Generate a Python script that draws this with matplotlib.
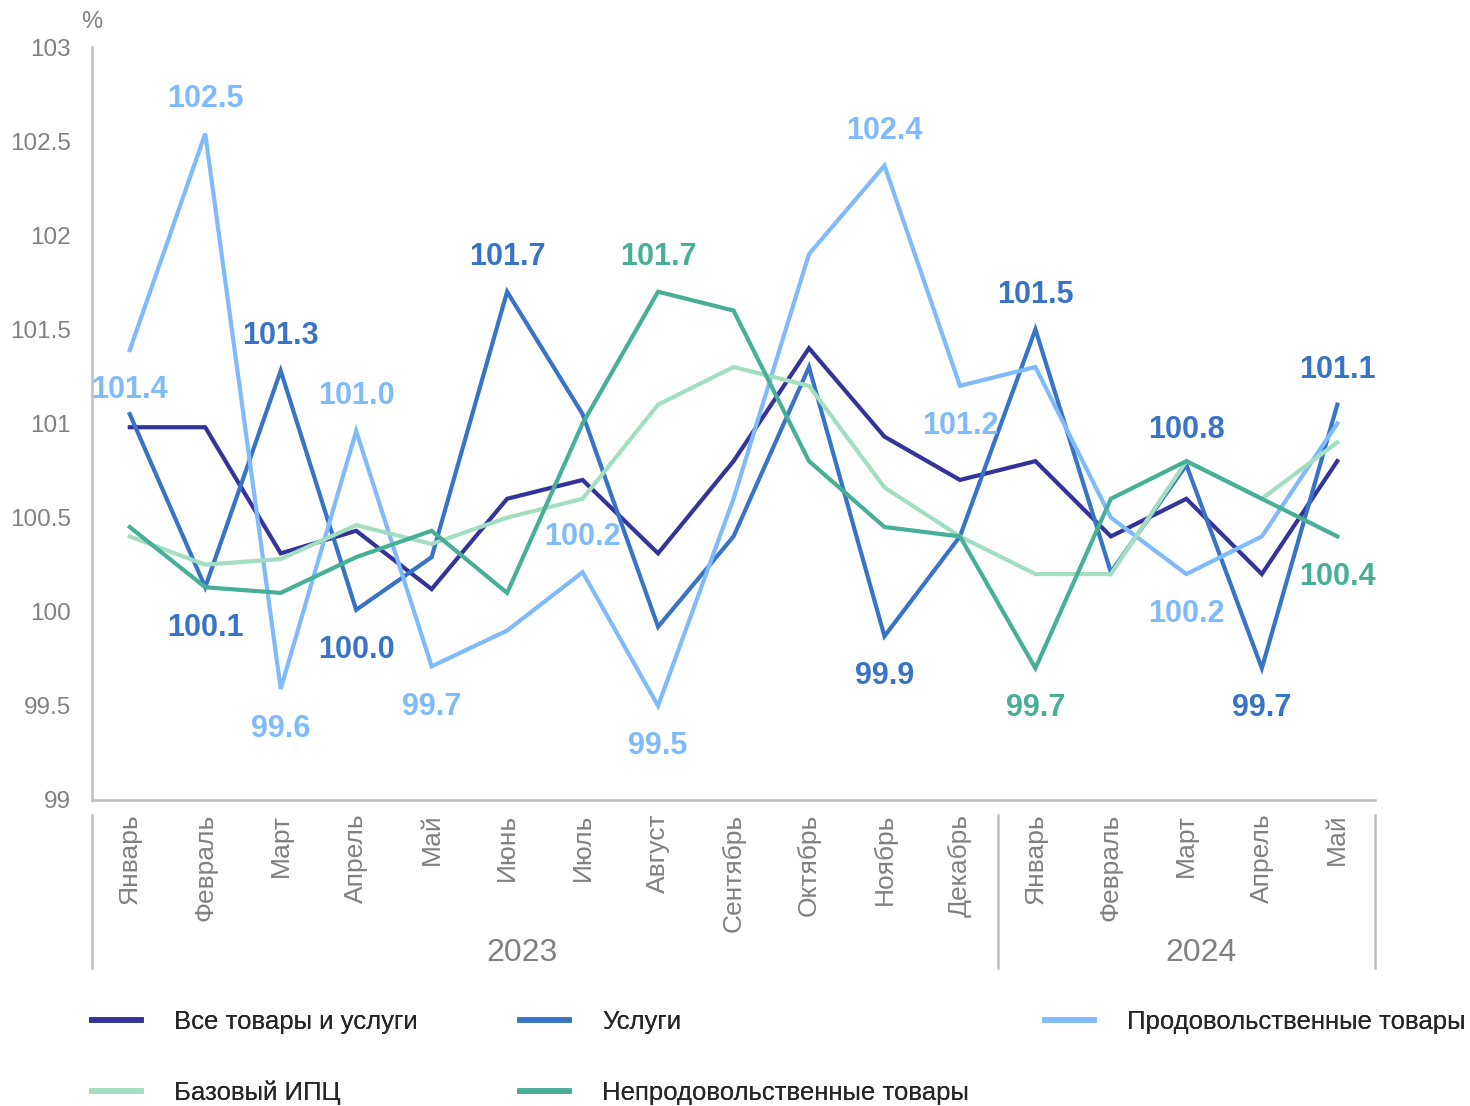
import matplotlib.pyplot as plt
from matplotlib.transforms import blended_transform_factory

plt.rcParams['font.family'] = ['Liberation Sans', 'DejaVu Sans']

# data
months = ['Январь', 'Февраль', 'Март', 'Апрель', 'Май', 'Июнь', 'Июль', 'Август',
          'Сентябрь', 'Октябрь', 'Ноябрь', 'Декабрь',
          'Январь', 'Февраль', 'Март', 'Апрель', 'Май']
years = ['2023', '2024']
year_sizes = [12, 5]

all_goods = [100.98, 100.98, 100.31, 100.43, 100.12, 100.60, 100.70, 100.31, 100.80,
             101.40, 100.93, 100.70, 100.80, 100.40, 100.60, 100.20, 100.80]
services = [101.05, 100.13, 101.28, 100.01, 100.29, 101.70, 101.05, 99.92, 100.40,
            101.30, 99.87, 100.40, 101.50, 100.21, 100.78, 99.70, 101.10]
food = [101.39, 102.54, 99.59, 100.96, 99.71, 99.90, 100.21, 99.50, 100.60,
        101.90, 102.37, 101.20, 101.30, 100.50, 100.20, 100.40, 101.00]
core = [100.40, 100.25, 100.28, 100.46, 100.36, 100.50, 100.60, 101.10, 101.30,
        101.20, 100.66, 100.40, 100.20, 100.20, 100.80, 100.60, 100.90]
nonfood = [100.45, 100.13, 100.10, 100.29, 100.43, 100.10, 101.00, 101.70, 101.60,
           100.80, 100.45, 100.40, 99.70, 100.60, 100.80, 100.60, 100.40]

names = ['Все товары и услуги', 'Услуги', 'Продовольственные товары',
         'Базовый ИПЦ', 'Непродовольственные товары']
colors = ['#343399', '#3773C6', '#7FBAFB', '#A3DEC0', '#47AE97']
series = [all_goods, services, food, core, nonfood]

# value labels: (series index, month index, text, above?)
labels = [
    (2, 0, '101.4', False), (2, 1, '102.5', True), (1, 1, '100.1', False),
    (1, 2, '101.3', True), (2, 2, '99.6', False), (2, 3, '101.0', True),
    (1, 3, '100.0', False), (2, 4, '99.7', False), (1, 5, '101.7', True),
    (2, 6, '100.2', True), (4, 7, '101.7', True), (2, 7, '99.5', False),
    (2, 10, '102.4', True), (1, 10, '99.9', False), (2, 11, '101.2', False),
    (1, 12, '101.5', True), (4, 12, '99.7', False), (1, 14, '100.8', True),
    (2, 14, '100.2', False), (1, 15, '99.7', False), (1, 16, '101.1', True),
    (4, 16, '100.4', False),
]

gray = '#808080'
fig = plt.figure(figsize=(14.7, 11.06), dpi=100)
ax = fig.add_axes([0.0626, 0.2767, 0.8728, 0.6808])

x = list(range(len(months)))
lines = []
for vals, c, n in zip(series, colors, names):
    ln, = ax.plot(x, vals, color=c, lw=3, label=n, solid_joinstyle='miter')
    lines.append(ln)

for si, mi, txt, above in labels:
    off = 25 if above else -29
    ax.annotate(txt, (mi, series[si][mi]), xytext=(0, off), textcoords='offset points',
                ha='center', va='center', fontsize=22, fontweight='bold', color=colors[si])

ax.set_xlim(-0.5, len(months) - 0.5)
ax.set_ylim(99, 103)
ax.set_yticks([99, 99.5, 100, 100.5, 101, 101.5, 102, 102.5, 103])
ax.set_yticklabels(['99', '99.5', '100', '100.5', '101', '101.5', '102', '102.5', '103'])
ax.tick_params(axis='y', length=0, labelsize=17.5, labelcolor=gray, pad=15)
ax.set_xticks(x)
ax.set_xticklabels(months, rotation=90)
ax.tick_params(axis='x', length=0, labelsize=19, labelcolor=gray, pad=10)

for s in ['top', 'right']:
    ax.spines[s].set_visible(False)
for s in ['left', 'bottom']:
    ax.spines[s].set_color('#BFBFBF')
    ax.spines[s].set_linewidth(1.8)

tr = blended_transform_factory(ax.transData, ax.transAxes)
ax.text(-0.5, 1.033, '%', transform=tr, ha='center', va='center', fontsize=17, color=gray)

# year grouping
year_shift = [-0.3, 0.2]
start = -0.5
ax.plot([start, start], [-0.02, -0.223], color='#BFBFBF', lw=1.8, transform=tr, clip_on=False)
for yr, n, sh in zip(years, year_sizes, year_shift):
    end = start + n
    ax.plot([end, end], [-0.02, -0.223], color='#BFBFBF', lw=1.8, transform=tr, clip_on=False)
    ax.text((start + end) / 2 + sh, -0.203, yr, transform=tr, ha='center', va='center',
            fontsize=23, color=gray)
    start = end

# legend in three columns
cols = [[0, 3], [1, 4], [2]]
col_x = [0.0626, 0.3537, 0.7109]
for idx, cx in zip(cols, col_x):
    leg = fig.legend([lines[i] for i in idx], [names[i] for i in idx],
                     loc='upper left', bbox_to_anchor=(cx, 0.087), frameon=False,
                     fontsize=18.5, handlelength=1.9, handletextpad=1.3,
                     labelspacing=1.83, borderpad=0, borderaxespad=0)
    for t in leg.get_texts():
        t.set_color('#262626')
    for h in leg.get_lines():
        h.set_linewidth(4)
    fig.add_artist(leg)

fig.savefig('out.png', dpi=100)
